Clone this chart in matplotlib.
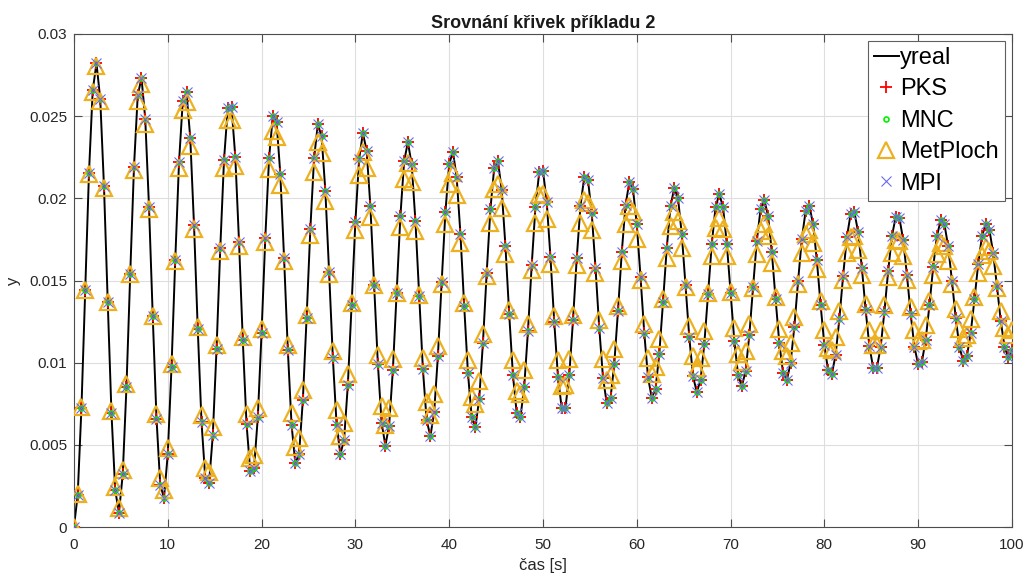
import numpy as np
import matplotlib
matplotlib.use("Agg")
import matplotlib.pyplot as plt

plt.rcParams['font.family'] = ['Liberation Sans', 'DejaVu Sans']

# sampling step of the simulated responses [s]
dt = 0.4

# measured output, in units of 1e-5
yreal_e5 = [
    0, 196, 727, 1445, 2153, 2657, 2822, 2607, 2074, 1371, 693, 223,
    88, 321, 855, 1542, 2191, 2627, 2733, 2484, 1950, 1281, 660, 256,
    178, 442, 974, 1626, 2219, 2591, 2644, 2366, 1836, 1202, 638, 296,
    267, 557, 1083, 1699, 2236, 2549, 2554, 2253, 1732, 1135, 625, 340,
    357, 667, 1182, 1761, 2244, 2502, 2465, 2147, 1637, 1078, 620, 389,
    445, 770, 1272, 1813, 2245, 2451, 2377, 2046, 1552, 1030, 623, 442,
    532, 867, 1353, 1856, 2239, 2397, 2291, 1953, 1475, 992, 633, 496,
    617, 958, 1426, 1891, 2226, 2342, 2208, 1865, 1407, 961, 649, 553,
    698, 1042, 1490, 1917, 2208, 2284, 2128, 1784, 1347, 939, 669, 610,
    777, 1120, 1546, 1936, 2185, 2227, 2051, 1709, 1295, 923, 694, 668,
    852, 1192, 1594, 1949, 2159, 2169, 1978, 1641, 1250, 913, 722, 726,
    923, 1258, 1636, 1955, 2129, 2111, 1908, 1578, 1212, 909, 753, 783,
    991, 1317, 1671, 1957, 2097, 2054, 1843, 1522, 1180, 910, 786, 840,
    1054, 1370, 1700, 1954, 2063, 1999, 1781, 1471, 1154, 916, 821, 894,
    1114, 1418, 1724, 1946, 2027, 1945, 1724, 1426, 1133, 925, 857, 947,
    1169, 1461, 1742, 1936, 1990, 1893, 1671, 1386, 1117, 937, 894, 999,
    1220, 1498, 1755, 1922, 1953, 1843, 1622, 1351, 1106, 953, 932, 1048,
    1268, 1530, 1764, 1905, 1916, 1795, 1576, 1321, 1099, 970, 969, 1094,
    1311, 1558, 1769, 1886, 1879, 1749, 1535, 1296, 1096, 990, 1006, 1138,
    1350, 1582, 1771, 1866, 1842, 1707, 1498, 1274, 1095, 1011, 1042, 1180,
    1385, 1601, 1769, 1844, 1806, 1666, 1465, 1256, 1098, 1033, 1078,
]

# response of the model identified by the area method, in units of 1e-5
metploch_e5 = [
    0, 198, 729, 1445, 2148, 2647, 2808, 2593, 2065, 1372, 705, 245,
    115, 345, 869, 1539, 2171, 2594, 2695, 2450, 1933, 1286, 688, 301,
    227, 483, 994, 1617, 2182, 2536, 2584, 2318, 1815, 1215, 682, 361,
    336, 610, 1105, 1682, 2184, 2474, 2477, 2196, 1711, 1156, 685, 423,
    440, 727, 1203, 1734, 2177, 2411, 2375, 2084, 1619, 1110, 696, 488,
    540, 835, 1288, 1775, 2162, 2345, 2278, 1981, 1539, 1074, 713, 553,
    635, 933, 1363, 1806, 2142, 2280, 2186, 1888, 1470, 1048, 736, 618,
    724, 1021, 1427, 1828, 2117, 2215, 2099, 1804, 1411, 1030, 763, 683,
    808, 1101, 1481, 1843, 2088, 2152, 2019, 1728, 1361, 1019, 794, 746,
    886, 1173, 1527, 1851, 2056, 2089, 1944, 1661, 1319, 1014, 827, 807,
    958, 1236, 1565, 1852, 2022, 2029, 1874, 1601, 1285, 1015, 861, 866,
    1025, 1293, 1595, 1849, 1987, 1972, 1810, 1548, 1258, 1020, 897, 922,
    1086, 1342, 1619, 1842, 1951, 1917, 1752, 1502, 1237, 1029, 933, 976,
    1142, 1385, 1638, 1832, 1914, 1865, 1698, 1462, 1221, 1041, 970, 1026,
    1192, 1422, 1651, 1818, 1878, 1816, 1650, 1428, 1210, 1055, 1006, 1074,
    1238, 1453, 1660, 1802, 1842, 1770, 1607, 1399, 1203, 1072, 1041, 1118,
    1279, 1480, 1665, 1785, 1807, 1727, 1568, 1375, 1199, 1090, 1076, 1159,
    1316, 1502, 1667, 1766, 1773, 1688, 1534, 1355, 1199, 1109, 1109, 1197,
    1348, 1520, 1666, 1747, 1741, 1651, 1504, 1338, 1201, 1129, 1141, 1232,
    1376, 1534, 1663, 1727, 1710, 1618, 1477, 1326, 1206, 1150, 1171, 1264,
    1401, 1545, 1657, 1706, 1680, 1588, 1454, 1316, 1212, 1170, 1200,
]

yreal = np.array(yreal_e5) * 1e-5
metploch = np.array(metploch_e5) * 1e-5
# the PKS, MNC and MPI model responses coincide with the measured output
pks = yreal.copy()
mnc = yreal.copy()
mpi = yreal.copy()
t = np.arange(len(yreal)) * dt

x_ticks = list(range(0, 101, 10))
y_ticks = [0, 0.005, 0.01, 0.015, 0.02, 0.025, 0.03]
y_tick_labels = ['0', '0.005', '0.01', '0.015', '0.02', '0.025', '0.03']

fig = plt.figure(figsize=(10.3, 5.78), dpi=100)
ax = fig.add_axes([0.0718, 0.0882, 0.9107, 0.853])

ax.plot(t, yreal, color='k', lw=1.4, label='yreal', zorder=2)
ax.plot(t, pks, ls='none', marker='+', ms=8, mew=1.3, color='red',
        label='PKS', zorder=3)
ax.plot(t, mnc, ls='none', marker='o', ms=3.6, mew=1.2, mfc='none',
        mec=(0.0, 0.95, 0.0), label='MNC', zorder=4)
ax.plot(t, metploch, ls='none', marker='^', ms=12, mew=1.6, mfc='none',
        mec='#EDB120', label='MetPloch', zorder=5)
ax.plot(t, mpi, ls='none', marker='x', ms=7, mew=0.8, color='#6b6bf0',
        label='MPI', zorder=6)

ax.set_xlim(0, 100)
ax.set_ylim(0, 0.03)
ax.set_xticks(x_ticks)
ax.set_yticks(y_ticks)
ax.set_yticklabels(y_tick_labels)
ax.grid(True, color=(0.87, 0.87, 0.87), lw=0.8)
ax.set_axisbelow(True)

axis_grey = '#4d4d4d'
for sp in ax.spines.values():
    sp.set_color(axis_grey)
    sp.set_linewidth(0.8)
ax.tick_params(direction='in', top=True, right=True, length=6, width=0.8,
               color=axis_grey, labelcolor='#262626', labelsize=11)
ax.tick_params(axis='x', pad=8)
ax.tick_params(axis='y', pad=5)

ax.set_title('Srovnání křivek příkladu 2', fontsize=13, fontweight='bold',
             color='#1a1a1a', pad=4)
ax.set_xlabel('čas [s]', fontsize=12, color='#262626', labelpad=4)
ax.set_ylabel('y', fontsize=12, color='#262626', labelpad=6)

leg = ax.legend(loc='upper right', bbox_to_anchor=(0.9925, 0.9858),
                borderaxespad=0, fontsize=17, handlelength=1.05,
                handletextpad=0.08, labelspacing=0.4, borderpad=0.25,
                frameon=True, fancybox=False, edgecolor='#606060',
                framealpha=1)
leg.get_frame().set_linewidth(0.8)

fig.savefig('out.png', dpi=100)
